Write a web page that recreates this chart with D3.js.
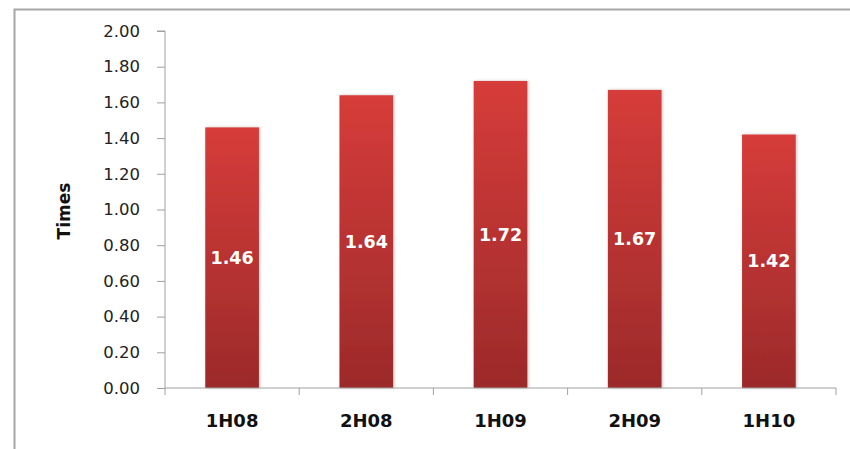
<!DOCTYPE html>
<html>
<head>
<meta charset="utf-8">
<script src="https://cdn.jsdelivr.net/npm/d3@7"></script>
<style>
  html, body { margin: 0; padding: 0; background: #fff; }
  svg { display: block; }
</style>
</head>
<body>
<svg id="chart" width="850" height="449"></svg>
<script>
// Half-yearly ratio, in times
const periods = ["1H08", "2H08", "1H09", "2H09", "1H10"];
const ratios = [1.46, 1.64, 1.72, 1.67, 1.42];
const yTicks = [0, 0.2, 0.4, 0.6, 0.8, 1.0, 1.2, 1.4, 1.6, 1.8, 2.0];

const svg = d3.select("#chart");
const W = 850, H = 449;
const plotLeft = 165, plotRight = 836, plotTop = 31, plotBottom = 388;
const font = "DejaVu Sans, Verdana, sans-serif";

// Frame: top and left edges of the chart area
svg.append("path")
  .attr("d", `M14.5,${H} L14.5,9.5 L${W},9.5`)
  .attr("fill", "none").attr("stroke", "#a6a6a6").attr("stroke-width", 2);

const x = d3.scaleBand().domain(periods).range([plotLeft, plotRight]).paddingInner(0.6).paddingOuter(0.3);
const y = d3.scaleLinear().domain([0, 2]).range([plotBottom, plotTop]);

const defs = svg.append("defs");
const grad = defs.append("linearGradient").attr("id", "barGrad")
  .attr("x1", 0).attr("y1", 0).attr("x2", 0).attr("y2", 1);
grad.append("stop").attr("offset", "0%").attr("stop-color", "#d63c3a");
grad.append("stop").attr("offset", "100%").attr("stop-color", "#9c2a2a");

const shadow = defs.append("filter").attr("id", "barShadow")
  .attr("x", "-20%").attr("y", "-10%").attr("width", "140%").attr("height", "120%");
shadow.append("feDropShadow").attr("dx", 1).attr("dy", 0).attr("stdDeviation", 1.5)
  .attr("flood-color", "#000").attr("flood-opacity", 0.25);

// Bars
svg.append("g").selectAll("rect").data(periods).join("rect")
  .attr("x", d => x(d))
  .attr("y", (d, i) => y(ratios[i]))
  .attr("width", x.bandwidth())
  .attr("height", (d, i) => y(0) - y(ratios[i]))
  .attr("fill", "url(#barGrad)")
  .attr("filter", "url(#barShadow)");

// Value labels inside bars
svg.append("g").selectAll("text").data(periods).join("text")
  .attr("x", d => x(d) + x.bandwidth() / 2)
  .attr("y", (d, i) => (y(ratios[i]) + y(0)) / 2)
  .attr("dy", "0.35em")
  .attr("text-anchor", "middle")
  .attr("fill", "#fff")
  .attr("font-family", font)
  .attr("font-weight", "bold")
  .attr("font-size", 17.5)
  .text((d, i) => ratios[i].toFixed(2));

// Y axis
const yAxis = svg.append("g").attr("transform", `translate(${plotLeft},0)`)
  .call(d3.axisLeft(y).tickValues(yTicks).tickFormat(d3.format(".2f")).tickSize(8).tickPadding(17));
yAxis.select(".domain").attr("stroke", "#a0a0a0").attr("d", `M-8,${plotTop}H0V${plotBottom}`);
yAxis.selectAll(".tick line").attr("stroke", "#a0a0a0");
yAxis.selectAll("text")
  .attr("font-family", font)
  .attr("font-size", 16.5).attr("fill", "#222");

// X axis with ticks between categories
const xAxisG = svg.append("g").attr("transform", `translate(0,${plotBottom})`);
xAxisG.append("line").attr("x1", plotLeft).attr("x2", plotRight).attr("y1", 0).attr("y2", 0)
  .attr("stroke", "#a0a0a0");
const step = (plotRight - plotLeft) / periods.length;
xAxisG.selectAll(".sep").data(d3.range(periods.length + 1)).join("line")
  .attr("class", "sep")
  .attr("x1", i => plotLeft + i * step).attr("x2", i => plotLeft + i * step)
  .attr("y1", 0).attr("y2", 7).attr("stroke", "#a0a0a0");
xAxisG.selectAll(".cat").data(periods).join("text")
  .attr("class", "cat")
  .attr("x", (d, i) => plotLeft + (i + 0.5) * step)
  .attr("y", 33)
  .attr("dy", "0.35em")
  .attr("text-anchor", "middle")
  .attr("font-family", font)
  .attr("font-weight", "bold")
  .attr("font-size", 18)
  .attr("fill", "#111")
  .text(d => d);

// Y axis title
svg.append("text")
  .attr("transform", `translate(64,211) rotate(-90)`)
  .attr("dy", "0.35em")
  .attr("text-anchor", "middle")
  .attr("font-family", font)
  .attr("font-weight", "bold")
  .attr("font-size", 17)
  .attr("fill", "#111")
  .text("Times");
</script>
</body>
</html>
